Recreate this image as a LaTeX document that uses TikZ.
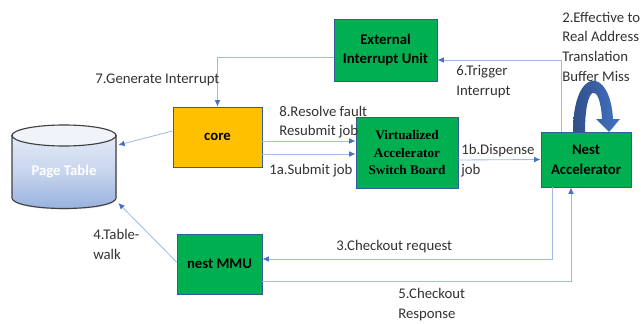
\documentclass[tikz,border=0pt]{standalone}
\usepackage{fontspec}
\setmainfont{Carlito}
\newfontfamily\boardfont{Liberation Serif}
\usetikzlibrary{arrows.meta,shadows}
\definecolor{boxgreen}{RGB}{0,176,80}
\definecolor{coreyellow}{RGB}{255,192,0}
\definecolor{edgeblue}{RGB}{68,114,196}
\definecolor{wireblue}{RGB}{160,186,230}
\definecolor{labelgray}{RGB}{50,50,50}
\tikzset{
    softshadow/.style={drop shadow={opacity=0.2,shadow xshift=0.4pt,shadow yshift=-0.8pt}},
    unitbox/.style={draw=edgeblue!80!black, line width=0.7pt, fill=boxgreen, softshadow, inner sep=0pt, align=center, font=\bfseries\fontsize{10.5}{14}\selectfont},
    wire/.style={draw=wireblue, line width=0.6pt, -{Latex[length=4.5pt,width=4pt,color=edgeblue,fill=edgeblue]}},
    steplabel/.style={anchor=west, align=left, inner sep=0pt, text=labelgray, font=\fontsize{10.5}{14}\selectfont}
}
\begin{document}
\begin{tikzpicture}[x=0.25mm,y=-0.25mm]
    \useasboundingbox (0,0) rectangle (641,324);

    % the page table
    \path[softshadow, top color=white!85!edgeblue, bottom color=edgeblue!55!white, middle color=edgeblue!30!white, draw=black!75, line width=0.8pt]
        (12,135.5) -- (12,198) .. controls (12,204) and (35,208.5) .. (64,208.5) .. controls (93,208.5) and (116,204) .. (116,198) -- (116,135.5) -- cycle;
    \draw[draw=black!75, line width=0.8pt, fill=white!92!edgeblue] (64,135.5) ellipse[x radius=52, y radius=10.5];
    \node[minimum width=104*0.25mm, minimum height=72*0.25mm, inner sep=0pt,
        text=white, font=\bfseries\fontsize{10.5}{14}\selectfont] (table) at (64,172) {Page Table};

    % the units
    \node[unitbox, minimum width=103*0.25mm, minimum height=62*0.25mm] (ext) at (385.5,50) {External\\Interrupt Unit};
    \node[unitbox, fill=coreyellow, minimum width=89*0.25mm, minimum height=60*0.25mm] (core) at (217.5,137) {core};
    \node[unitbox, minimum width=102*0.25mm, minimum height=71*0.25mm, font=\boardfont\bfseries\fontsize{9.4}{12.3}\selectfont] (board) at (407,152.5) {Virtualized\\Accelerator\\Switch Board};
    \node[unitbox, minimum width=90*0.25mm, minimum height=55*0.25mm] (nest) at (586,159.5) {Nest\\Accelerator};
    \node[unitbox, minimum width=85*0.25mm, minimum height=60*0.25mm] (mmu) at (219.5,264) {nest MMU};

    % the connectors
    \draw[wire] ([yshift=-7*0.25mm]ext.west) -| (core.north);
    \draw[wire] ([xshift=-25*0.25mm]nest.north) |- ([yshift=-10*0.25mm]ext.east);
    \draw[wire] ([yshift=6*0.25mm]core.west) -- ([xshift=2*0.25mm,yshift=27*0.25mm]table.east);
    \draw[wire] ([yshift=2*0.25mm]mmu.west) -- ([xshift=2*0.25mm,yshift=-31*0.25mm]table.east);
    \draw[wire] ([yshift=-4*0.25mm]core.east) -- ([yshift=-4*0.25mm]core.east -| board.west);
    \draw[wire] ([yshift=-17*0.25mm]core.east) -- ([yshift=-17*0.25mm]core.east -| board.west);
    \draw[wire] ([yshift=-7.5*0.25mm]board.east) -- (nest.west);
    \draw[wire] ([xshift=-34*0.25mm]nest.south) |- ([yshift=5*0.25mm]mmu.east);
    \draw[wire] ([yshift=-17*0.25mm]mmu.east) -| ([xshift=-15*0.25mm]nest.south);

    % the thick loop above the accelerator
    \shade[left color=edgeblue!70!black, right color=edgeblue]
        (573,132) .. controls (573,66) and (610,66) .. (613,119) -- (620,119) -- (609,132) -- (596,119) -- (602,119)
        .. controls (600,82) and (585,82) .. (585,132) -- cycle;

    % the step labels
    \node[steplabel] (l7) at (95,80) {7.Generate Interrupt};
    \node[steplabel] (l8) at (279,122) {8.Resolve fault\\Resubmit job};
    \node[steplabel] (l1a) at (269,171) {1a.Submit job};
    \node[steplabel] (l1b) at (461,160.5) {1b.Dispense\\job};
    \node[steplabel] (l6) at (456,81.5) {6.Trigger\\Interrupt};
    \node[steplabel] (l2) at (562,46.5) {2.Effective to\\Real Address\\Translation\\Buffer Miss};
    \node[steplabel] (l3) at (336,247) {3.Checkout request};
    \node[steplabel] (l5) at (398,304.5) {5.Checkout\\Response};
    \node[steplabel] (l4) at (93,244.5) {4.Table-\\walk};
\end{tikzpicture}
\end{document}
